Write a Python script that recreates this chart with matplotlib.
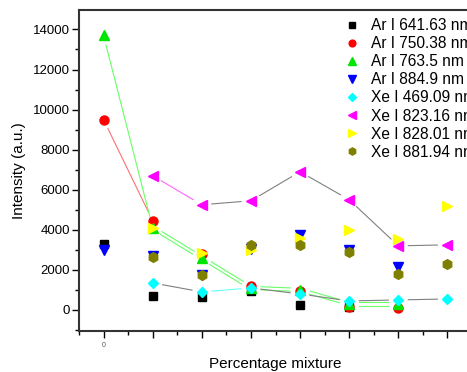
import numpy as np
import matplotlib
matplotlib.use('Agg')
import matplotlib.pyplot as plt
from matplotlib.ticker import MultipleLocator

nan = np.nan
x = np.arange(8)
labels = ['Ar I 641.63 nm', 'Ar I 750.38 nm', 'Ar I 763.5 nm', 'Ar I 884.9 nm',
          'Xe I 469.09 nm', 'Xe I 823.16 nm', 'Xe I 828.01 nm', 'Xe I 881.94 nm']
ar641 = [3300, 680, 650, 950, 250, 150, nan, nan]
ar750 = [9500, 4450, 2800, 1200, 950, 150, 100, nan]
ar763 = [13700, 4100, 2600, 1100, 1000, 300, 300, nan]
ar884 = [3000, 2700, 1750, 3050, 3750, 3000, 2150, nan]
xe469 = [nan, 1350, 900, 1100, 800, 450, 500, 550]
xe823 = [nan, 6700, 5250, 5450, 6900, 5500, 3200, 3250]
xe828 = [nan, 4100, 2850, 3000, 3600, 4000, 3550, 5200]
xe881 = [nan, 2650, 1750, 3250, 3250, 2900, 1800, 2300]

series = [ar641, ar750, ar763, ar884, xe469, xe823, xe828, xe881]
colors = ['#000000', '#FF0000', '#00E600', '#0000FF',
          '#00FFFF', '#FF00FF', '#FFFF00', '#808000']
markers = ['s', 'o', '^', 'v', 'D', '<', '>', 'h']
sizes = [6, 6.5, 7, 7, 5.5, 7, 7, 7]

plt.rcParams.update({'font.family': 'Liberation Sans'})
fig = plt.figure(figsize=(4.67, 3.72), dpi=100)
ax = fig.add_axes([79 / 467, 41 / 372, 393 / 467, 321 / 372])
ax.set_xlim(-0.5, 7.5)
ax.set_ylim(-1050, 14970)


def gapped(xs, ys, i0, i1, color, gap=10, offset=0.0):
    # draw segments between markers, leaving a gap at each end
    for i in range(i0, i1):
        p = ax.transData.transform([(xs[i], ys[i]), (xs[i + 1], ys[i + 1])])
        d = p[1] - p[0]
        L = np.hypot(*d)
        u = d / L
        n = np.array([-u[1], u[0]]) * offset
        a = p[0] + u * gap + n
        b = p[1] - u * gap + n
        q = ax.transData.inverted().transform([a, b])
        c = color[i] if isinstance(color, list) else color
        ax.plot(q[:, 0], q[:, 1], color=c, lw=0.8, zorder=1)


gapped(x, ar750, 0, 1, '#FF7070')
gapped(x, ar763, 0, 1, '#66FF66')
gapped(x, ar763, 1, 6, '#66FF66', offset=1.6)
gapped(x, ar763, 1, 6, '#66FF66', offset=-1.6)
gapped(x, xe823, 1, 7, ['', '#FF66FF'] + ['#808080'] * 5)
gapped(x, xe469, 1, 7, ['', '#808080', '#66FFFF'] + ['#808080'] * 4)

for s, c, m, ms, lab in zip(series, colors, markers, sizes, labels):
    ax.plot(x, s, ls='none', marker=m, ms=ms, color=c, mec=c, label=lab,
            zorder=3)

ax.xaxis.set_major_locator(MultipleLocator(1))
ax.xaxis.set_minor_locator(MultipleLocator(0.5))
ax.set_xticklabels(['0' if t == 0 else '' for t in ax.get_xticks()])
ax.yaxis.set_major_locator(MultipleLocator(2000))
ax.yaxis.set_minor_locator(MultipleLocator(1000))
ax.tick_params(axis='both', which='major', direction='out', length=5,
               width=1, labelsize=9.5, pad=1.5)
ax.tick_params(axis='both', which='minor', direction='out', length=3,
               width=1)
ax.tick_params(axis='x', which='major', labelsize=5, labelcolor='#555555',
               pad=3)
for sp in ax.spines.values():
    sp.set_linewidth(1.5)
    sp.set_color('#333333')

ax.set_xlabel('Percentage mixture', fontsize=11, labelpad=6)
ax.set_ylabel('Intensity (a.u.)', fontsize=11, labelpad=5)

ax.legend(loc='upper left', bbox_to_anchor=(345 / 467, 1 - 18 / 372),
          bbox_transform=fig.transFigure, frameon=False, fontsize=11.2,
          markerscale=0.75, handlelength=0.9, handletextpad=0.75,
          labelspacing=0.2, borderpad=0, borderaxespad=0)

fig.savefig('out.png', dpi=100)
